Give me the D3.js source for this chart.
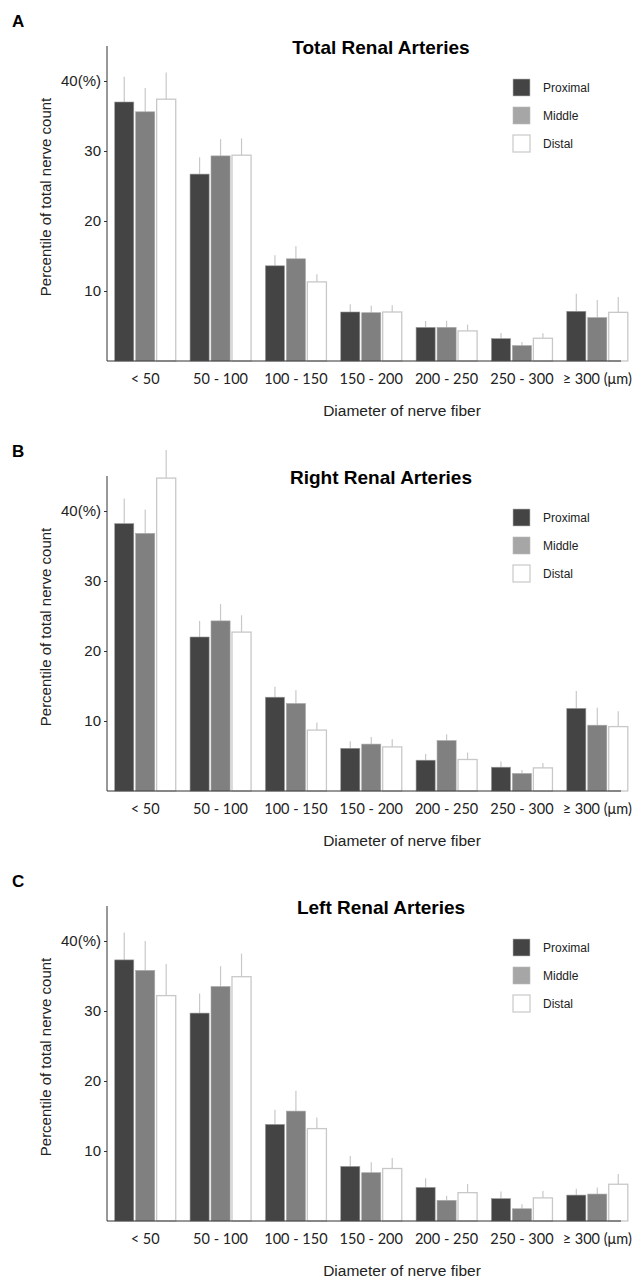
<!DOCTYPE html>
<html>
<head>
<meta charset="utf-8">
<script src="https://cdn.jsdelivr.net/npm/d3@7"></script>
<style>
  body { margin: 0; background: #fff; }
  svg { display: block; }
  .tick line { stroke: #333; }
</style>
</head>
<body>
<div id="chart"></div>
<script>
let categories = ["< 50", "50 - 100", "100 - 150", "150 - 200", "200 - 250", "250 - 300", "\u2265 300 (\u03bcm)"];
let series = ["Proximal", "Middle", "Distal"];
let y_ticks = [10, 20, 30, 40];

// panel A : total
let total_prox = [37.0, 26.7, 13.6, 7.0, 4.8, 3.2, 7.1];
let total_mid  = [35.6, 29.3, 14.6, 6.9, 4.8, 2.2, 6.2];
let total_dist = [37.4, 29.4, 11.3, 7.0, 4.3, 3.25, 6.95];
let total_prox_err = [3.6, 2.4, 1.5, 1.1, 0.9, 0.8, 2.5];
let total_mid_err  = [3.4, 2.4, 1.8, 1.0, 0.95, 0.5, 2.5];
let total_dist_err = [3.8, 2.4, 1.1, 0.95, 0.9, 0.7, 2.2];

// panel B : right
let right_prox = [38.2, 22.0, 13.4, 6.1, 4.4, 3.4, 11.8];
let right_mid  = [36.8, 24.3, 12.5, 6.7, 7.2, 2.5, 9.4];
let right_dist = [44.7, 22.7, 8.7, 6.3, 4.5, 3.3, 9.2];
let right_prox_err = [3.6, 2.3, 1.5, 1.0, 0.9, 0.8, 2.5];
let right_mid_err  = [3.4, 2.4, 1.9, 1.0, 0.9, 0.5, 2.5];
let right_dist_err = [4.0, 2.4, 1.1, 1.1, 1.0, 0.7, 2.2];

// panel C : left
let left_prox = [37.3, 29.7, 13.8, 7.8, 4.8, 3.2, 3.7];
let left_mid  = [35.8, 33.5, 15.7, 6.9, 2.95, 1.75, 3.85];
let left_dist = [32.2, 34.9, 13.2, 7.5, 4.05, 3.3, 5.25];
let left_prox_err = [3.9, 2.8, 2.1, 1.5, 1.3, 1.0, 0.9];
let left_mid_err  = [4.2, 2.9, 2.9, 1.5, 0.65, 0.65, 0.95];
let left_dist_err = [4.5, 3.3, 1.6, 1.5, 1.25, 1.0, 1.45];

let panels = [
  {tag: "A", title: "Total Renal Arteries", vals: [total_prox, total_mid, total_dist], errs: [total_prox_err, total_mid_err, total_dist_err]},
  {tag: "B", title: "Right Renal Arteries", vals: [right_prox, right_mid, right_dist], errs: [right_prox_err, right_mid_err, right_dist_err]},
  {tag: "C", title: "Left Renal Arteries", vals: [left_prox, left_mid, left_dist], errs: [left_prox_err, left_mid_err, left_dist_err]}
];

let fills = ["#444444", "#808080", "#ffffff"];
let strokes = ["#9a9a9a", "#a8a8a8", "#c8c8c8"];
let legend_fills = ["#444444", "#a6a6a6", "#ffffff"];

let layout = {
  width: 639, height: 1278, step: 430,
  axis_x0: 107, axis_x1: 621, axis_top: 46, axis_bottom: 361,
  font: "'Liberation Sans', Arial, sans-serif",
  tick_font: "Lato, 'Open Sans', sans-serif"
};

let svg = d3.select("#chart").append("svg")
  .attr("width", layout.width).attr("height", layout.height)
  .attr("viewBox", "0 0 " + layout.width + " " + layout.height);

let x0 = d3.scaleBand().domain(categories).range([114.7, 627.8]).paddingInner(0.19).paddingOuter(0);
let x1 = d3.scaleBand().domain(series).range([0, x0.bandwidth()]).paddingInner(0.09).paddingOuter(0);

let draw_panel = function(p, k) {
  let oy = k * layout.step;
  let g = svg.append("g").attr("transform", "translate(0," + oy + ")");
  let y = d3.scaleLinear().domain([0, 45]).range([layout.axis_bottom, layout.axis_top]);

  // panel letter
  g.append("text").attr("x", 12).attr("y", 27)
    .style("font-family", layout.font).style("font-weight", "bold").style("font-size", "17px")
    .text(p.tag);

  // title
  g.append("text").attr("x", 381).attr("y", 54).attr("text-anchor", "middle")
    .style("font-family", layout.font).style("font-weight", "bold").style("font-size", "19px")
    .text(p.title);

  // bars
  series.forEach(function(s, si) {
    let rows = categories.map(function(c, ci) { return {c: c, v: p.vals[si][ci], e: p.errs[si][ci]}; });
    let sg = g.append("g");
    sg.selectAll("line.err").data(rows).enter().append("line")
      .attr("class", "err")
      .attr("x1", function(d) { return x0(d.c) + x1(s) + x1.bandwidth() / 2; })
      .attr("x2", function(d) { return x0(d.c) + x1(s) + x1.bandwidth() / 2; })
      .attr("y1", function(d) { return y(d.v); })
      .attr("y2", function(d) { return y(d.v + d.e); })
      .style("stroke", "#c8c8c8").style("stroke-width", 1.2);
    sg.selectAll("rect").data(rows).enter().append("rect")
      .attr("x", function(d) { return x0(d.c) + x1(s); })
      .attr("y", function(d) { return y(d.v); })
      .attr("width", x1.bandwidth())
      .attr("height", function(d) { return y(0) - y(d.v); })
      .style("fill", fills[si])
      .style("stroke", strokes[si]).style("stroke-width", si == 2 ? 1.3 : 0.6);
  });

  // y axis
  let axis_y = g.append("g").attr("transform", "translate(" + layout.axis_x0 + ",0)")
    .call(d3.axisLeft(y).tickValues(y_ticks).tickSizeInner(3).tickSizeOuter(0).tickPadding(3)
      .tickFormat(function(d) { return d == 40 ? "40(%)" : d; }));
  axis_y.select(".domain").remove();
  axis_y.selectAll("text").style("font-family", layout.font).style("font-size", "15px").style("fill", "#222");
  g.append("line").attr("x1", layout.axis_x0).attr("x2", layout.axis_x0)
    .attr("y1", layout.axis_top).attr("y2", layout.axis_bottom)
    .style("stroke", "#333").style("stroke-width", 1);

  // x axis
  let axis_x = g.append("g").attr("transform", "translate(0," + layout.axis_bottom + ")")
    .call(d3.axisBottom(x0).tickSize(0).tickPadding(13));
  axis_x.select(".domain").remove();
  axis_x.selectAll("text").style("font-family", layout.tick_font).style("font-size", "14.5px").style("fill", "#222");
  g.append("line").attr("x1", layout.axis_x0).attr("x2", layout.axis_x1)
    .attr("y1", layout.axis_bottom).attr("y2", layout.axis_bottom)
    .style("stroke", "#333").style("stroke-width", 1.2);

  // axis names
  g.append("text").attr("x", 402).attr("y", 416).attr("text-anchor", "middle")
    .style("font-family", layout.font).style("font-size", "15.5px").style("fill", "#222")
    .text("Diameter of nerve fiber");
  g.append("text").attr("transform", "translate(51,197) rotate(-90)").attr("text-anchor", "middle")
    .style("font-family", layout.font).style("font-size", "15px").style("fill", "#222")
    .text("Percentile of total nerve count");

  // legend
  let lg = g.append("g").attr("transform", "translate(513,79)");
  series.forEach(function(s, si) {
    lg.append("rect").attr("x", 0).attr("y", si * 28).attr("width", 17).attr("height", 17)
      .style("fill", legend_fills[si]).style("stroke", si == 2 ? "#c8c8c8" : "#bbb").style("stroke-width", si == 2 ? 1.2 : 0.6);
    lg.append("text").attr("x", 30).attr("y", si * 28 + 13)
      .style("font-family", layout.font).style("font-size", "12px").style("fill", "#222")
      .text(s);
  });
}

panels.forEach(draw_panel);
</script>
</body>
</html>
